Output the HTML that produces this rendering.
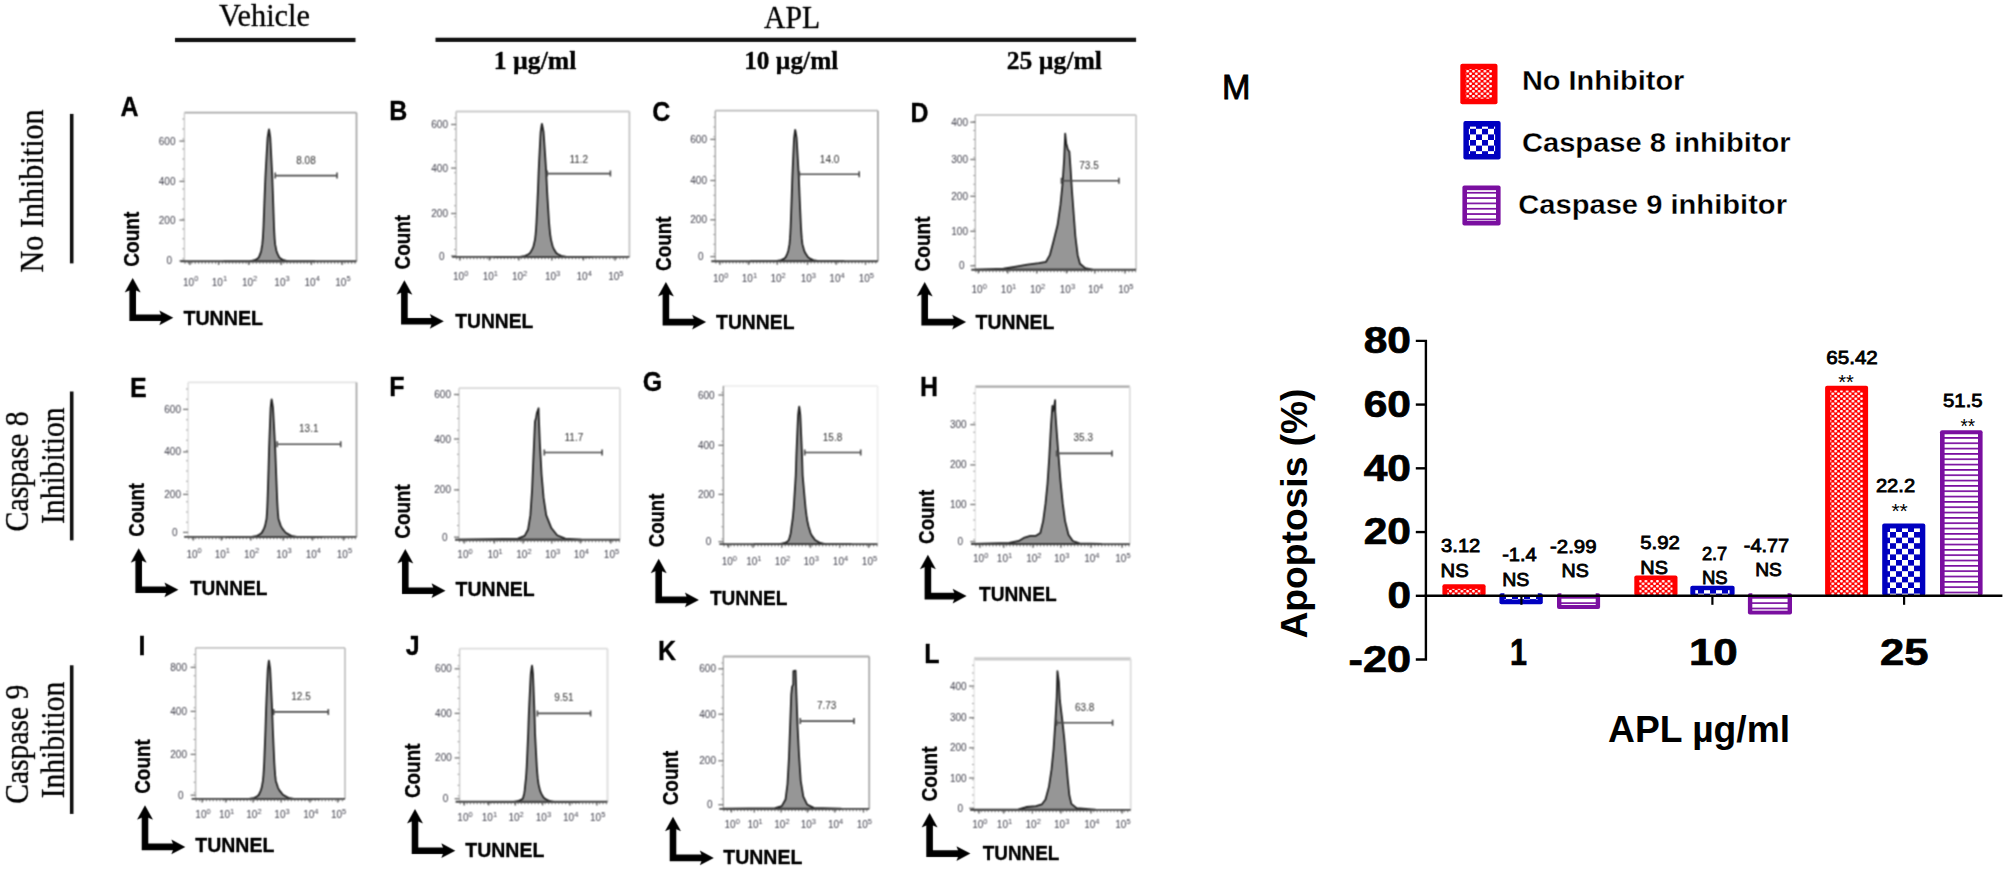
<!DOCTYPE html>
<html lang="en"><head><meta charset="utf-8"><title>Figure</title>
<style>html,body{margin:0;padding:0;background:#fff;}body{width:2007px;height:870px;overflow:hidden;}svg{display:block;}.s{font-family:"Liberation Sans", Arial, Helvetica, sans-serif;}.r{font-family:"Liberation Serif", "Times New Roman", Times, serif;stroke:#000;stroke-width:.3px;}.lt{font-family:"Liberation Sans", Arial, Helvetica, sans-serif;font-weight:700;font-size:27.8px;fill:#000;stroke:#000;stroke-width:.3px;}.ct{font-family:"Liberation Sans", Arial, Helvetica, sans-serif;font-weight:700;font-size:21.5px;fill:#000;stroke:#000;stroke-width:.3px;}.tn{font-family:"Liberation Sans", Arial, Helvetica, sans-serif;font-weight:700;font-size:20.2px;fill:#000;stroke:#000;stroke-width:.3px;}.tk{font-family:"Liberation Sans", Arial, Helvetica, sans-serif;font-size:10px;fill:#3e3e4a;}.gl{font-family:"Liberation Sans", Arial, Helvetica, sans-serif;font-size:10px;fill:#2e2e2e;}.vl{font-family:"Liberation Sans", Arial, Helvetica, sans-serif;font-weight:400;font-size:19px;fill:#000;stroke:#000;stroke-width:.85px;}</style></head><body>
<svg width="2007" height="870" viewBox="0 0 2007 870">
<defs>
<filter id="b1" x="-5%" y="-5%" width="110%" height="110%" color-interpolation-filters="sRGB"><feConvolveMatrix order="3" kernelMatrix="0 1 0 1 4 1 0 1 0" divisor="8" edgeMode="duplicate" preserveAlpha="false"/></filter>
<filter id="b2" x="-5%" y="-5%" width="110%" height="110%" color-interpolation-filters="sRGB"><feConvolveMatrix order="3" kernelMatrix="1 2 1 2 4 2 1 2 1" divisor="16" edgeMode="duplicate" preserveAlpha="false"/></filter>
<pattern id="pr" width="5.75" height="5" patternUnits="userSpaceOnUse"><rect width="5.75" height="5" fill="#f00"/><rect x="0.1" y="0.1" width="2.65" height="2.3" rx="0.8" fill="#fff"/><rect x="2.975" y="2.6" width="2.65" height="2.3" rx="0.8" fill="#fff"/></pattern>
<pattern id="pb" width="12" height="11.2" patternUnits="userSpaceOnUse"><rect width="12" height="11.2" fill="#fff"/><rect x="0" y="0" width="6" height="5.6" fill="#0000c0"/><rect x="6" y="5.6" width="6" height="5.6" fill="#0000c0"/></pattern>
<pattern id="pp" width="8" height="5.33" patternUnits="userSpaceOnUse"><rect width="8" height="5.33" fill="#fff"/><rect x="0" y="0" width="8" height="1.7" fill="#7a0fa0"/></pattern>
</defs>
<rect width="2007" height="870" fill="#fff"/>
<g filter="url(#b1)">
<text class="r" x="219" y="25.8" font-size="31" textLength="91" lengthAdjust="spacingAndGlyphs">Vehicle</text>
<rect x="175" y="37.9" width="180.5" height="4.2" fill="#111"/>
<text class="r" x="764" y="27.8" font-size="31" textLength="56" lengthAdjust="spacingAndGlyphs">APL</text>
<rect x="435.5" y="37.7" width="700.6" height="4.2" fill="#111"/>
<text class="r" x="493.7" y="68.7" font-size="25.5" font-weight="700" textLength="82.7" lengthAdjust="spacingAndGlyphs">1 µg/ml</text>
<text class="r" x="744.2" y="68.7" font-size="25.5" font-weight="700" textLength="94.1" lengthAdjust="spacingAndGlyphs">10 µg/ml</text>
<text class="r" x="1006.8" y="68.7" font-size="25.5" font-weight="700" textLength="95.2" lengthAdjust="spacingAndGlyphs">25 µg/ml</text>
<text class="r" transform="translate(43.3,190.9) rotate(-90)" text-anchor="middle" font-size="33.3" textLength="163" lengthAdjust="spacingAndGlyphs">No Inhibition</text>
<rect x="69.9" y="113.9" width="3.6" height="149.5" fill="#111"/>
<text class="r" transform="translate(28.4,471.35) rotate(-90)" text-anchor="middle" font-size="33.3" textLength="120.1" lengthAdjust="spacingAndGlyphs">Caspase 8</text>
<text class="r" transform="translate(63.7,465.7) rotate(-90)" text-anchor="middle" font-size="33.3" textLength="116.6" lengthAdjust="spacingAndGlyphs">Inhibition</text>
<rect x="69.9" y="391.5" width="3.6" height="148.9" fill="#111"/>
<text class="r" transform="translate(28.4,744.2) rotate(-90)" text-anchor="middle" font-size="33.3" textLength="119" lengthAdjust="spacingAndGlyphs">Caspase 9</text>
<text class="r" transform="translate(63.7,740) rotate(-90)" text-anchor="middle" font-size="33.3" textLength="116.6" lengthAdjust="spacingAndGlyphs">Inhibition</text>
<rect x="69.9" y="665.3" width="3.6" height="148.6" fill="#111"/>
</g>
<g filter="url(#b2)">
<line x1="184.4" y1="112.6" x2="356.5" y2="112.6" stroke="#aaa" stroke-width="1.8"/>
<line x1="356.5" y1="112.6" x2="356.5" y2="261.3" stroke="#aaa" stroke-width="1.8"/>
<line x1="184.4" y1="112.6" x2="184.4" y2="261.3" stroke="#ccc" stroke-width="1.4"/>
<line x1="183.2" y1="118.6" x2="183.2" y2="261.3" stroke="#999" stroke-width="1.6" stroke-dasharray="1 8.98"/>
<line x1="179.4" y1="141.1" x2="184.4" y2="141.1" stroke="#777" stroke-width="1.3"/>
<text class="tk" x="175.5" y="144.6" text-anchor="end">600</text>
<line x1="179.4" y1="181.4" x2="184.4" y2="181.4" stroke="#777" stroke-width="1.3"/>
<text class="tk" x="175.5" y="184.9" text-anchor="end">400</text>
<line x1="179.4" y1="220.1" x2="184.4" y2="220.1" stroke="#777" stroke-width="1.3"/>
<text class="tk" x="175.5" y="223.6" text-anchor="end">200</text>
<line x1="179.4" y1="260.9" x2="184.4" y2="260.9" stroke="#777" stroke-width="1.3"/>
<text class="tk" x="172" y="264.4" text-anchor="end">0</text>
<path d="M223.96 261.3 L248.96 261.3 L251.66 260.77 L254.36 260.25 L255.98 259.45 L257.6 258.66 L258.8 257.35 L259.62 255.37 L260.43 253.39 L261.2 250.76 L261.64 248.12 L262.3 244.17 L262.79 238.89 L263.12 233.62 L263.47 227.03 L263.77 219.12 L264.07 211.22 L264.36 203.31 L264.65 195.4 L265.02 186.17 L265.4 176.95 L265.88 167.72 L266.4 158.5 L266.92 149.27 L267.29 142.68 L267.63 137.41 L268.27 133.45 L268.59 131.48 L269 129.5 L269.37 131.48 L269.66 133.45 L270.24 137.41 L270.55 142.68 L270.89 149.27 L271.36 158.5 L271.83 167.72 L272.27 176.95 L272.61 186.17 L272.95 195.4 L273.21 203.31 L273.48 211.22 L273.75 219.12 L274.03 227.03 L274.35 233.62 L274.66 238.89 L275.1 244.17 L275.89 248.12 L276.41 250.76 L277.32 253.39 L278.3 255.37 L279.28 257.35 L280.7 258.66 L282.32 259.45 L283.94 260.25 L286.64 260.77 L289.34 261.3 L314.34 261.3 Z" fill="#969696" stroke="#222" stroke-width="1.8" stroke-linejoin="round"/>
<line x1="180.4" y1="261.3" x2="356.5" y2="261.3" stroke="#444" stroke-width="1.9"/>
<line x1="189.9" y1="261.3" x2="189.9" y2="264.9" stroke="#555" stroke-width="1.3"/>
<text class="tk" x="190.7" y="285.5" text-anchor="middle">10<tspan font-size="7.5" dy="-4.2">0</tspan></text>
<line x1="218.6" y1="261.3" x2="218.6" y2="264.9" stroke="#555" stroke-width="1.3"/>
<text class="tk" x="219.4" y="285.5" text-anchor="middle">10<tspan font-size="7.5" dy="-4.2">1</tspan></text>
<line x1="248.8" y1="261.3" x2="248.8" y2="264.9" stroke="#555" stroke-width="1.3"/>
<text class="tk" x="249.6" y="285.5" text-anchor="middle">10<tspan font-size="7.5" dy="-4.2">2</tspan></text>
<line x1="281.2" y1="261.3" x2="281.2" y2="264.9" stroke="#555" stroke-width="1.3"/>
<text class="tk" x="282" y="285.5" text-anchor="middle">10<tspan font-size="7.5" dy="-4.2">3</tspan></text>
<line x1="311.4" y1="261.3" x2="311.4" y2="264.9" stroke="#555" stroke-width="1.3"/>
<text class="tk" x="312.2" y="285.5" text-anchor="middle">10<tspan font-size="7.5" dy="-4.2">4</tspan></text>
<line x1="342.1" y1="261.3" x2="342.1" y2="264.9" stroke="#555" stroke-width="1.3"/>
<text class="tk" x="342.9" y="285.5" text-anchor="middle">10<tspan font-size="7.5" dy="-4.2">5</tspan></text>
<line x1="184.4" y1="262.9" x2="356.5" y2="262.9" stroke="#777" stroke-width="1.6" stroke-dasharray="1.2 2.2"/>
<path d="M275.2 175.6 H337 M275.2 172.6 V178.6 M337 172.6 V178.6" stroke="#4c4c4c" stroke-width="1.6" fill="none"/>
<text class="gl" x="306" y="164" text-anchor="middle">8.08</text>
</g>
<g filter="url(#b1)">
<text class="lt" transform="translate(120.5,116.3) scale(0.9,1)">A</text>
<text class="ct" transform="translate(138.6,239.2) rotate(-90)" text-anchor="middle" textLength="55.2" lengthAdjust="spacingAndGlyphs">Count</text>
<path d="M132.7 287.1 V317.8 H164.3" fill="none" stroke="#000" stroke-width="6.6" stroke-linejoin="miter"/><path d="M132.7 278.1 L140.7 292.6 L132.7 289.1 L124.7 292.6 Z" fill="#000"/><path d="M173.3 317.8 L159.3 310.4 L162.3 317.8 L159.3 325.2 Z" fill="#000"/>
<text class="tn" x="183.4" y="325.2" textLength="79.7" lengthAdjust="spacingAndGlyphs">TUNNEL</text>
</g>
<g filter="url(#b2)">
<line x1="456.1" y1="111.5" x2="629.4" y2="111.5" stroke="#ccc" stroke-width="1.8"/>
<line x1="629.4" y1="111.5" x2="629.4" y2="256.9" stroke="#c4c4c4" stroke-width="1.8"/>
<line x1="456.1" y1="111.5" x2="456.1" y2="256.9" stroke="#bbb" stroke-width="1.4"/>
<line x1="454.9" y1="117.5" x2="454.9" y2="256.9" stroke="#999" stroke-width="1.6" stroke-dasharray="1 9.96"/>
<line x1="451.1" y1="124.5" x2="456.1" y2="124.5" stroke="#777" stroke-width="1.3"/>
<text class="tk" x="448" y="128" text-anchor="end">600</text>
<line x1="451.1" y1="168.1" x2="456.1" y2="168.1" stroke="#777" stroke-width="1.3"/>
<text class="tk" x="448" y="171.6" text-anchor="end">400</text>
<line x1="451.1" y1="213.5" x2="456.1" y2="213.5" stroke="#777" stroke-width="1.3"/>
<text class="tk" x="448" y="217" text-anchor="end">200</text>
<line x1="451.1" y1="256" x2="456.1" y2="256" stroke="#777" stroke-width="1.3"/>
<text class="tk" x="444.5" y="259.5" text-anchor="end">0</text>
<path d="M494.86 256.9 L519.86 256.9 L522.56 256.37 L525.26 255.84 L526.88 255.04 L528.5 254.24 L530.15 252.91 L531.29 250.91 L532.42 248.91 L533.48 246.25 L534.09 243.59 L535 239.6 L535.61 234.27 L536.03 228.95 L536.47 222.29 L536.85 214.31 L537.23 206.32 L537.59 198.34 L537.95 190.35 L538.29 181.03 L538.63 171.72 L539.07 162.4 L539.54 153.08 L540.01 143.77 L540.35 137.11 L540.66 131.79 L541.24 127.79 L541.53 125.8 L541.9 123.8 L542.38 125.8 L542.76 127.79 L543.52 131.79 L543.92 137.11 L544.36 143.77 L544.98 153.08 L545.59 162.4 L546.17 171.72 L546.61 181.03 L547.05 190.35 L547.53 198.34 L548.02 206.32 L548.52 214.31 L549.03 222.29 L549.62 228.95 L550.18 234.27 L551 239.6 L551.98 243.59 L552.64 246.25 L553.78 248.91 L555 250.91 L556.22 252.91 L558 254.24 L559.62 255.04 L561.24 255.84 L563.94 256.37 L566.64 256.9 L591.64 256.9 Z" fill="#969696" stroke="#222" stroke-width="1.8" stroke-linejoin="round"/>
<line x1="452.1" y1="256.9" x2="629.4" y2="256.9" stroke="#444" stroke-width="1.9"/>
<line x1="459.9" y1="256.9" x2="459.9" y2="260.5" stroke="#555" stroke-width="1.3"/>
<text class="tk" x="460.7" y="280.3" text-anchor="middle">10<tspan font-size="7.5" dy="-4.2">0</tspan></text>
<line x1="489.5" y1="256.9" x2="489.5" y2="260.5" stroke="#555" stroke-width="1.3"/>
<text class="tk" x="490.3" y="280.3" text-anchor="middle">10<tspan font-size="7.5" dy="-4.2">1</tspan></text>
<line x1="518.8" y1="256.9" x2="518.8" y2="260.5" stroke="#555" stroke-width="1.3"/>
<text class="tk" x="519.6" y="280.3" text-anchor="middle">10<tspan font-size="7.5" dy="-4.2">2</tspan></text>
<line x1="551.8" y1="256.9" x2="551.8" y2="260.5" stroke="#555" stroke-width="1.3"/>
<text class="tk" x="552.6" y="280.3" text-anchor="middle">10<tspan font-size="7.5" dy="-4.2">3</tspan></text>
<line x1="583.4" y1="256.9" x2="583.4" y2="260.5" stroke="#555" stroke-width="1.3"/>
<text class="tk" x="584.2" y="280.3" text-anchor="middle">10<tspan font-size="7.5" dy="-4.2">4</tspan></text>
<line x1="615" y1="256.9" x2="615" y2="260.5" stroke="#555" stroke-width="1.3"/>
<text class="tk" x="615.8" y="280.3" text-anchor="middle">10<tspan font-size="7.5" dy="-4.2">5</tspan></text>
<line x1="456.1" y1="258.5" x2="629.4" y2="258.5" stroke="#777" stroke-width="1.6" stroke-dasharray="1.2 2.2"/>
<path d="M547.2 173.6 H610.4 M547.2 170.6 V176.6 M610.4 170.6 V176.6" stroke="#4c4c4c" stroke-width="1.6" fill="none"/>
<text class="gl" x="578.8" y="162.5" text-anchor="middle">11.2</text>
</g>
<g filter="url(#b1)">
<text class="lt" transform="translate(389.3,119.9) scale(0.9,1)">B</text>
<text class="ct" transform="translate(409.6,242.25) rotate(-90)" text-anchor="middle" textLength="54.5" lengthAdjust="spacingAndGlyphs">Count</text>
<path d="M404.4 289.2 V321.3 H434.8" fill="none" stroke="#000" stroke-width="6.6" stroke-linejoin="miter"/><path d="M404.4 280.2 L412.4 294.7 L404.4 291.2 L396.4 294.7 Z" fill="#000"/><path d="M443.8 321.3 L429.8 313.9 L432.8 321.3 L429.8 328.7 Z" fill="#000"/>
<text class="tn" x="455.3" y="327.9" textLength="78" lengthAdjust="spacingAndGlyphs">TUNNEL</text>
</g>
<g filter="url(#b2)">
<line x1="715.3" y1="110.7" x2="877.9" y2="110.7" stroke="#bbb" stroke-width="1.8"/>
<line x1="877.9" y1="110.7" x2="877.9" y2="261.2" stroke="#aaa" stroke-width="1.8"/>
<line x1="715.3" y1="110.7" x2="715.3" y2="261.2" stroke="#aaa" stroke-width="1.4"/>
<line x1="714.1" y1="116.7" x2="714.1" y2="261.2" stroke="#999" stroke-width="1.6" stroke-dasharray="1 8.77"/>
<line x1="710.3" y1="139.4" x2="715.3" y2="139.4" stroke="#777" stroke-width="1.3"/>
<text class="tk" x="707" y="142.9" text-anchor="end">600</text>
<line x1="710.3" y1="180.5" x2="715.3" y2="180.5" stroke="#777" stroke-width="1.3"/>
<text class="tk" x="707" y="184" text-anchor="end">400</text>
<line x1="710.3" y1="219.8" x2="715.3" y2="219.8" stroke="#777" stroke-width="1.3"/>
<text class="tk" x="707" y="223.3" text-anchor="end">200</text>
<line x1="710.3" y1="256.6" x2="715.3" y2="256.6" stroke="#777" stroke-width="1.3"/>
<text class="tk" x="703.5" y="260.1" text-anchor="end">0</text>
<path d="M750.66 261.2 L775.66 261.2 L778.36 260.67 L781.06 260.15 L782.68 259.36 L784.3 258.57 L785.62 257.26 L786.53 255.29 L787.44 253.32 L788.28 250.7 L788.77 248.07 L789.5 244.13 L789.96 238.88 L790.29 233.63 L790.62 227.06 L790.91 219.18 L791.2 211.31 L791.47 203.43 L791.75 195.55 L792.05 186.36 L792.34 177.17 L792.73 167.98 L793.14 158.79 L793.55 149.6 L793.85 143.03 L794.12 137.78 L794.62 133.84 L794.88 131.87 L795.2 129.9 L795.61 131.87 L795.93 133.84 L796.57 137.78 L796.91 143.03 L797.28 149.6 L797.8 158.79 L798.32 167.98 L798.8 177.17 L799.18 186.36 L799.55 195.55 L799.9 203.43 L800.25 211.31 L800.61 219.18 L800.98 227.06 L801.4 233.63 L801.81 238.88 L802.4 244.13 L803.47 248.07 L804.18 250.7 L805.42 253.32 L806.74 255.29 L808.07 257.26 L810 258.57 L811.62 259.36 L813.24 260.15 L815.94 260.67 L818.64 261.2 L843.64 261.2 Z" fill="#969696" stroke="#222" stroke-width="1.8" stroke-linejoin="round"/>
<line x1="711.3" y1="261.2" x2="877.9" y2="261.2" stroke="#444" stroke-width="1.9"/>
<line x1="719.9" y1="261.2" x2="719.9" y2="264.8" stroke="#555" stroke-width="1.3"/>
<text class="tk" x="720.7" y="281.8" text-anchor="middle">10<tspan font-size="7.5" dy="-4.2">0</tspan></text>
<line x1="748.6" y1="261.2" x2="748.6" y2="264.8" stroke="#555" stroke-width="1.3"/>
<text class="tk" x="749.4" y="281.8" text-anchor="middle">10<tspan font-size="7.5" dy="-4.2">1</tspan></text>
<line x1="777.3" y1="261.2" x2="777.3" y2="264.8" stroke="#555" stroke-width="1.3"/>
<text class="tk" x="778.1" y="281.8" text-anchor="middle">10<tspan font-size="7.5" dy="-4.2">2</tspan></text>
<line x1="807.5" y1="261.2" x2="807.5" y2="264.8" stroke="#555" stroke-width="1.3"/>
<text class="tk" x="808.3" y="281.8" text-anchor="middle">10<tspan font-size="7.5" dy="-4.2">3</tspan></text>
<line x1="836.2" y1="261.2" x2="836.2" y2="264.8" stroke="#555" stroke-width="1.3"/>
<text class="tk" x="837" y="281.8" text-anchor="middle">10<tspan font-size="7.5" dy="-4.2">4</tspan></text>
<line x1="865.5" y1="261.2" x2="865.5" y2="264.8" stroke="#555" stroke-width="1.3"/>
<text class="tk" x="866.3" y="281.8" text-anchor="middle">10<tspan font-size="7.5" dy="-4.2">5</tspan></text>
<line x1="715.3" y1="262.8" x2="877.9" y2="262.8" stroke="#777" stroke-width="1.6" stroke-dasharray="1.2 2.2"/>
<path d="M799.4 174.2 H859.2 M799.4 171.2 V177.2 M859.2 171.2 V177.2" stroke="#4c4c4c" stroke-width="1.6" fill="none"/>
<text class="gl" x="829.6" y="162.5" text-anchor="middle">14.0</text>
</g>
<g filter="url(#b1)">
<text class="lt" transform="translate(652.2,120.8) scale(0.9,1)">C</text>
<text class="ct" transform="translate(670.6,243.7) rotate(-90)" text-anchor="middle" textLength="54.6" lengthAdjust="spacingAndGlyphs">Count</text>
<path d="M665.9 290.9 V322.1 H697.1" fill="none" stroke="#000" stroke-width="6.6" stroke-linejoin="miter"/><path d="M665.9 281.9 L673.9 296.4 L665.9 292.9 L657.9 296.4 Z" fill="#000"/><path d="M706.1 322.1 L692.1 314.7 L695.1 322.1 L692.1 329.5 Z" fill="#000"/>
<text class="tn" x="716.1" y="329" textLength="78.4" lengthAdjust="spacingAndGlyphs">TUNNEL</text>
</g>
<g filter="url(#b2)">
<line x1="975.3" y1="115" x2="1136.1" y2="115" stroke="#ccc" stroke-width="1.8"/>
<line x1="1136.1" y1="115" x2="1136.1" y2="269.8" stroke="#ccc" stroke-width="1.8"/>
<line x1="975.3" y1="115" x2="975.3" y2="269.8" stroke="#bbb" stroke-width="1.4"/>
<line x1="974.1" y1="121" x2="974.1" y2="269.8" stroke="#999" stroke-width="1.6" stroke-dasharray="1 7.98"/>
<line x1="970.3" y1="122.2" x2="975.3" y2="122.2" stroke="#777" stroke-width="1.3"/>
<text class="tk" x="968" y="125.7" text-anchor="end">400</text>
<line x1="970.3" y1="159.5" x2="975.3" y2="159.5" stroke="#777" stroke-width="1.3"/>
<text class="tk" x="968" y="163" text-anchor="end">300</text>
<line x1="970.3" y1="196.3" x2="975.3" y2="196.3" stroke="#777" stroke-width="1.3"/>
<text class="tk" x="968" y="199.8" text-anchor="end">200</text>
<line x1="970.3" y1="231.3" x2="975.3" y2="231.3" stroke="#777" stroke-width="1.3"/>
<text class="tk" x="968" y="234.8" text-anchor="end">100</text>
<line x1="970.3" y1="265.8" x2="975.3" y2="265.8" stroke="#777" stroke-width="1.3"/>
<text class="tk" x="964.5" y="269.3" text-anchor="end">0</text>
<path d="M975.27 269.55 L1003.42 268.68 L1015.91 266.67 L1027.4 264.66 L1038.89 263.23 L1046.07 261.79 L1049.81 255.18 L1053.26 242.26 L1057.56 225.02 L1060.44 204.91 L1062.45 184.8 L1064.17 158.95 L1065.18 133.67 L1066.19 143.15 L1067.92 149.75 L1069.35 151.48 L1070.5 167.56 L1071.94 190.55 L1073.66 213.53 L1075.39 236.51 L1077.68 255.18 L1079.98 263.8 L1085.29 268.11 L1092.47 269.55 Z" fill="#969696" stroke="#222" stroke-width="1.8" stroke-linejoin="round"/>
<line x1="971.3" y1="269.8" x2="1136.1" y2="269.8" stroke="#444" stroke-width="1.9"/>
<line x1="978.4" y1="269.8" x2="978.4" y2="273.4" stroke="#555" stroke-width="1.3"/>
<text class="tk" x="979.2" y="292.7" text-anchor="middle">10<tspan font-size="7.5" dy="-4.2">0</tspan></text>
<line x1="1007.7" y1="269.8" x2="1007.7" y2="273.4" stroke="#555" stroke-width="1.3"/>
<text class="tk" x="1008.5" y="292.7" text-anchor="middle">10<tspan font-size="7.5" dy="-4.2">1</tspan></text>
<line x1="1036.8" y1="269.8" x2="1036.8" y2="273.4" stroke="#555" stroke-width="1.3"/>
<text class="tk" x="1037.6" y="292.7" text-anchor="middle">10<tspan font-size="7.5" dy="-4.2">2</tspan></text>
<line x1="1066.6" y1="269.8" x2="1066.6" y2="273.4" stroke="#555" stroke-width="1.3"/>
<text class="tk" x="1067.4" y="292.7" text-anchor="middle">10<tspan font-size="7.5" dy="-4.2">3</tspan></text>
<line x1="1094.8" y1="269.8" x2="1094.8" y2="273.4" stroke="#555" stroke-width="1.3"/>
<text class="tk" x="1095.6" y="292.7" text-anchor="middle">10<tspan font-size="7.5" dy="-4.2">4</tspan></text>
<line x1="1125" y1="269.8" x2="1125" y2="273.4" stroke="#555" stroke-width="1.3"/>
<text class="tk" x="1125.8" y="292.7" text-anchor="middle">10<tspan font-size="7.5" dy="-4.2">5</tspan></text>
<line x1="975.3" y1="271.4" x2="1136.1" y2="271.4" stroke="#777" stroke-width="1.6" stroke-dasharray="1.2 2.2"/>
<path d="M1061.4 180.8 H1118.9 M1061.4 177.8 V183.8 M1118.9 177.8 V183.8" stroke="#4c4c4c" stroke-width="1.6" fill="none"/>
<text class="gl" x="1089" y="168.8" text-anchor="middle">73.5</text>
</g>
<g filter="url(#b1)">
<text class="lt" transform="translate(910.4,122.2) scale(0.9,1)">D</text>
<text class="ct" transform="translate(930,244) rotate(-90)" text-anchor="middle" textLength="55.2" lengthAdjust="spacingAndGlyphs">Count</text>
<path d="M924.7 290.9 V322.1 H957.1" fill="none" stroke="#000" stroke-width="6.6" stroke-linejoin="miter"/><path d="M924.7 281.9 L932.7 296.4 L924.7 292.9 L916.7 296.4 Z" fill="#000"/><path d="M966.1 322.1 L952.1 314.7 L955.1 322.1 L952.1 329.5 Z" fill="#000"/>
<text class="tn" x="975.6" y="329" textLength="78.7" lengthAdjust="spacingAndGlyphs">TUNNEL</text>
</g>
<g filter="url(#b2)">
<line x1="188.1" y1="382.4" x2="356.5" y2="382.4" stroke="#e4e4e4" stroke-width="1.8"/>
<line x1="356.5" y1="382.4" x2="356.5" y2="536.9" stroke="#aaa" stroke-width="1.8"/>
<line x1="188.1" y1="382.4" x2="188.1" y2="536.9" stroke="#ddd" stroke-width="1.4"/>
<line x1="186.9" y1="388.4" x2="186.9" y2="536.9" stroke="#999" stroke-width="1.6" stroke-dasharray="1 9.25"/>
<line x1="183.1" y1="409.4" x2="188.1" y2="409.4" stroke="#777" stroke-width="1.3"/>
<text class="tk" x="181" y="412.9" text-anchor="end">600</text>
<line x1="183.1" y1="451.9" x2="188.1" y2="451.9" stroke="#777" stroke-width="1.3"/>
<text class="tk" x="181" y="455.4" text-anchor="end">400</text>
<line x1="183.1" y1="494.4" x2="188.1" y2="494.4" stroke="#777" stroke-width="1.3"/>
<text class="tk" x="181" y="497.9" text-anchor="end">200</text>
<line x1="183.1" y1="532.4" x2="188.1" y2="532.4" stroke="#777" stroke-width="1.3"/>
<text class="tk" x="177.5" y="535.9" text-anchor="end">0</text>
<path d="M226.56 536.9 L251.56 536.9 L254.26 536.35 L256.96 535.8 L258.58 534.97 L260.2 534.15 L261.8 532.77 L262.9 530.71 L264 528.64 L265.03 525.89 L265.62 523.14 L266.5 519.01 L266.92 513.51 L267.22 508 L267.52 501.12 L267.79 492.87 L268.05 484.61 L268.3 476.36 L268.55 468.1 L268.81 458.47 L269.07 448.84 L269.41 439.2 L269.78 429.57 L270.14 419.94 L270.4 413.06 L270.64 407.56 L271.09 403.43 L271.31 401.36 L271.6 399.3 L272.01 401.36 L272.33 403.43 L272.97 407.56 L273.31 413.06 L273.68 419.94 L274.2 429.57 L274.72 439.2 L275.2 448.84 L275.58 458.47 L275.95 468.1 L276.26 476.36 L276.58 484.61 L276.9 492.87 L277.23 501.12 L277.61 508 L277.97 513.51 L278.5 519.01 L279.86 523.14 L280.77 525.89 L282.35 528.64 L284.04 530.71 L285.73 532.77 L288.2 534.15 L289.82 534.97 L291.44 535.8 L294.14 536.35 L296.84 536.9 L321.84 536.9 Z" fill="#969696" stroke="#222" stroke-width="1.8" stroke-linejoin="round"/>
<line x1="184.1" y1="536.9" x2="356.5" y2="536.9" stroke="#444" stroke-width="1.9"/>
<line x1="193.3" y1="536.9" x2="193.3" y2="540.5" stroke="#555" stroke-width="1.3"/>
<text class="tk" x="194.1" y="557.5" text-anchor="middle">10<tspan font-size="7.5" dy="-4.2">0</tspan></text>
<line x1="221.5" y1="536.9" x2="221.5" y2="540.5" stroke="#555" stroke-width="1.3"/>
<text class="tk" x="222.3" y="557.5" text-anchor="middle">10<tspan font-size="7.5" dy="-4.2">1</tspan></text>
<line x1="250.8" y1="536.9" x2="250.8" y2="540.5" stroke="#555" stroke-width="1.3"/>
<text class="tk" x="251.6" y="557.5" text-anchor="middle">10<tspan font-size="7.5" dy="-4.2">2</tspan></text>
<line x1="283.2" y1="536.9" x2="283.2" y2="540.5" stroke="#555" stroke-width="1.3"/>
<text class="tk" x="284" y="557.5" text-anchor="middle">10<tspan font-size="7.5" dy="-4.2">3</tspan></text>
<line x1="312.5" y1="536.9" x2="312.5" y2="540.5" stroke="#555" stroke-width="1.3"/>
<text class="tk" x="313.3" y="557.5" text-anchor="middle">10<tspan font-size="7.5" dy="-4.2">4</tspan></text>
<line x1="343.6" y1="536.9" x2="343.6" y2="540.5" stroke="#555" stroke-width="1.3"/>
<text class="tk" x="344.4" y="557.5" text-anchor="middle">10<tspan font-size="7.5" dy="-4.2">5</tspan></text>
<line x1="188.1" y1="538.5" x2="356.5" y2="538.5" stroke="#777" stroke-width="1.6" stroke-dasharray="1.2 2.2"/>
<path d="M277.2 444.2 H340.7 M277.2 441.2 V447.2 M340.7 441.2 V447.2" stroke="#4c4c4c" stroke-width="1.6" fill="none"/>
<text class="gl" x="308.8" y="432.4" text-anchor="middle">13.1</text>
</g>
<g filter="url(#b1)">
<text class="lt" transform="translate(129.9,397.1) scale(0.9,1)">E</text>
<text class="ct" transform="translate(144.3,509.85) rotate(-90)" text-anchor="middle" textLength="53.7" lengthAdjust="spacingAndGlyphs">Count</text>
<path d="M138.7 557.2 V589.8 H169.4" fill="none" stroke="#000" stroke-width="6.6" stroke-linejoin="miter"/><path d="M138.7 548.2 L146.7 562.7 L138.7 559.2 L130.7 562.7 Z" fill="#000"/><path d="M178.4 589.8 L164.4 582.4 L167.4 589.8 L164.4 597.2 Z" fill="#000"/>
<text class="tn" x="189.9" y="595" textLength="77.5" lengthAdjust="spacingAndGlyphs">TUNNEL</text>
</g>
<g filter="url(#b2)">
<line x1="459" y1="388.2" x2="619.9" y2="388.2" stroke="#d8d8d8" stroke-width="1.8"/>
<line x1="619.9" y1="388.2" x2="619.9" y2="539.8" stroke="#ddd" stroke-width="1.8"/>
<line x1="459" y1="388.2" x2="459" y2="539.8" stroke="#ccc" stroke-width="1.4"/>
<line x1="457.8" y1="394.2" x2="457.8" y2="539.8" stroke="#999" stroke-width="1.6" stroke-dasharray="1 10.89"/>
<line x1="454" y1="394.5" x2="459" y2="394.5" stroke="#777" stroke-width="1.3"/>
<text class="tk" x="451" y="398" text-anchor="end">600</text>
<line x1="454" y1="439" x2="459" y2="439" stroke="#777" stroke-width="1.3"/>
<text class="tk" x="451" y="442.5" text-anchor="end">400</text>
<line x1="454" y1="489.9" x2="459" y2="489.9" stroke="#777" stroke-width="1.3"/>
<text class="tk" x="451" y="493.4" text-anchor="end">200</text>
<line x1="454" y1="537.2" x2="459" y2="537.2" stroke="#777" stroke-width="1.3"/>
<text class="tk" x="447.5" y="540.7" text-anchor="end">0</text>
<path d="M459 539.55 L517.89 538.68 L524.64 535.81 L528.08 529.49 L530.38 515.13 L532.11 489.27 L533.54 454.8 L534.98 421.76 L536.13 417.45 L536.85 413.15 L538.58 408.26 L538.72 414.58 L539.87 443.31 L541.6 474.91 L543.61 497.89 L546.19 515.13 L551.36 528.06 L557.11 535.24 L565.29 538.68 L581.09 539.55 Z" fill="#969696" stroke="#222" stroke-width="1.8" stroke-linejoin="round"/>
<line x1="455" y1="539.8" x2="619.9" y2="539.8" stroke="#444" stroke-width="1.9"/>
<line x1="464.2" y1="539.8" x2="464.2" y2="543.4" stroke="#555" stroke-width="1.3"/>
<text class="tk" x="465" y="558.1" text-anchor="middle">10<tspan font-size="7.5" dy="-4.2">0</tspan></text>
<line x1="494.3" y1="539.8" x2="494.3" y2="543.4" stroke="#555" stroke-width="1.3"/>
<text class="tk" x="495.1" y="558.1" text-anchor="middle">10<tspan font-size="7.5" dy="-4.2">1</tspan></text>
<line x1="523.1" y1="539.8" x2="523.1" y2="543.4" stroke="#555" stroke-width="1.3"/>
<text class="tk" x="523.9" y="558.1" text-anchor="middle">10<tspan font-size="7.5" dy="-4.2">2</tspan></text>
<line x1="551.8" y1="539.8" x2="551.8" y2="543.4" stroke="#555" stroke-width="1.3"/>
<text class="tk" x="552.6" y="558.1" text-anchor="middle">10<tspan font-size="7.5" dy="-4.2">3</tspan></text>
<line x1="580.5" y1="539.8" x2="580.5" y2="543.4" stroke="#555" stroke-width="1.3"/>
<text class="tk" x="581.3" y="558.1" text-anchor="middle">10<tspan font-size="7.5" dy="-4.2">4</tspan></text>
<line x1="610.7" y1="539.8" x2="610.7" y2="543.4" stroke="#555" stroke-width="1.3"/>
<text class="tk" x="611.5" y="558.1" text-anchor="middle">10<tspan font-size="7.5" dy="-4.2">5</tspan></text>
<line x1="459" y1="541.4" x2="619.9" y2="541.4" stroke="#777" stroke-width="1.6" stroke-dasharray="1.2 2.2"/>
<path d="M544.3 452.5 H602.1 M544.3 449.5 V455.5 M602.1 449.5 V455.5" stroke="#4c4c4c" stroke-width="1.6" fill="none"/>
<text class="gl" x="573.9" y="440.5" text-anchor="middle">11.7</text>
</g>
<g filter="url(#b1)">
<text class="lt" transform="translate(389.3,395.7) scale(0.9,1)">F</text>
<text class="ct" transform="translate(410,511.4) rotate(-90)" text-anchor="middle" textLength="54.6" lengthAdjust="spacingAndGlyphs">Count</text>
<path d="M405.3 558 V590.7 H436.5" fill="none" stroke="#000" stroke-width="6.6" stroke-linejoin="miter"/><path d="M405.3 549 L413.3 563.5 L405.3 560 L397.3 563.5 Z" fill="#000"/><path d="M445.5 590.7 L431.5 583.3 L434.5 590.7 L431.5 598.1 Z" fill="#000"/>
<text class="tn" x="455.6" y="596.1" textLength="79" lengthAdjust="spacingAndGlyphs">TUNNEL</text>
</g>
<g filter="url(#b2)">
<line x1="723.4" y1="385.9" x2="877.6" y2="385.9" stroke="#eee" stroke-width="1.8"/>
<line x1="877.6" y1="385.9" x2="877.6" y2="544.1" stroke="#eee" stroke-width="1.8"/>
<line x1="723.4" y1="385.9" x2="723.4" y2="544.1" stroke="#999" stroke-width="1.4"/>
<line x1="722.2" y1="391.9" x2="722.2" y2="544.1" stroke="#999" stroke-width="1.6" stroke-dasharray="1 11.22"/>
<line x1="718.4" y1="395" x2="723.4" y2="395" stroke="#777" stroke-width="1.3"/>
<text class="tk" x="714.7" y="398.5" text-anchor="end">600</text>
<line x1="718.4" y1="445.3" x2="723.4" y2="445.3" stroke="#777" stroke-width="1.3"/>
<text class="tk" x="714.7" y="448.8" text-anchor="end">400</text>
<line x1="718.4" y1="494.4" x2="723.4" y2="494.4" stroke="#777" stroke-width="1.3"/>
<text class="tk" x="714.7" y="497.9" text-anchor="end">200</text>
<line x1="718.4" y1="541.6" x2="723.4" y2="541.6" stroke="#777" stroke-width="1.3"/>
<text class="tk" x="711.2" y="545.1" text-anchor="end">0</text>
<path d="M754.16 544.1 L779.16 544.1 L781.86 543.55 L784.56 543 L786.18 542.18 L787.8 541.35 L788.77 539.98 L789.43 537.91 L790.09 535.85 L790.71 533.1 L791.07 530.35 L791.6 526.23 L792.46 520.73 L793.05 515.23 L793.67 508.35 L794.2 500.1 L794.73 491.85 L795.24 483.6 L795.75 475.35 L796.05 465.73 L796.34 456.1 L796.73 446.48 L797.14 436.85 L797.55 427.23 L797.85 420.35 L798.12 414.85 L798.62 410.73 L798.88 408.66 L799.2 406.6 L799.52 408.66 L799.78 410.73 L800.28 414.85 L800.55 420.35 L800.85 427.23 L801.26 436.85 L801.67 446.48 L802.06 456.1 L802.35 465.73 L802.65 475.35 L803.37 483.6 L804.09 491.85 L804.83 500.1 L805.59 508.35 L806.45 515.23 L807.29 520.73 L808.5 526.23 L809.74 530.35 L810.56 533.1 L811.99 535.85 L813.53 537.91 L815.06 539.98 L817.3 541.35 L818.92 542.18 L820.54 543 L823.24 543.55 L825.94 544.1 L850.94 544.1 Z" fill="#969696" stroke="#222" stroke-width="1.8" stroke-linejoin="round"/>
<line x1="719.4" y1="544.1" x2="877.6" y2="544.1" stroke="#444" stroke-width="1.9"/>
<line x1="728.5" y1="544.1" x2="728.5" y2="547.7" stroke="#555" stroke-width="1.3"/>
<text class="tk" x="729.3" y="564.7" text-anchor="middle">10<tspan font-size="7.5" dy="-4.2">0</tspan></text>
<line x1="753" y1="544.1" x2="753" y2="547.7" stroke="#555" stroke-width="1.3"/>
<text class="tk" x="753.8" y="564.7" text-anchor="middle">10<tspan font-size="7.5" dy="-4.2">1</tspan></text>
<line x1="781.7" y1="544.1" x2="781.7" y2="547.7" stroke="#555" stroke-width="1.3"/>
<text class="tk" x="782.5" y="564.7" text-anchor="middle">10<tspan font-size="7.5" dy="-4.2">2</tspan></text>
<line x1="810.4" y1="544.1" x2="810.4" y2="547.7" stroke="#555" stroke-width="1.3"/>
<text class="tk" x="811.2" y="564.7" text-anchor="middle">10<tspan font-size="7.5" dy="-4.2">3</tspan></text>
<line x1="839.7" y1="544.1" x2="839.7" y2="547.7" stroke="#555" stroke-width="1.3"/>
<text class="tk" x="840.5" y="564.7" text-anchor="middle">10<tspan font-size="7.5" dy="-4.2">4</tspan></text>
<line x1="868.7" y1="544.1" x2="868.7" y2="547.7" stroke="#555" stroke-width="1.3"/>
<text class="tk" x="869.5" y="564.7" text-anchor="middle">10<tspan font-size="7.5" dy="-4.2">5</tspan></text>
<line x1="723.4" y1="545.7" x2="877.6" y2="545.7" stroke="#777" stroke-width="1.6" stroke-dasharray="1.2 2.2"/>
<path d="M804.7 452.5 H860.7 M804.7 449.5 V455.5 M860.7 449.5 V455.5" stroke="#4c4c4c" stroke-width="1.6" fill="none"/>
<text class="gl" x="832.5" y="440.5" text-anchor="middle">15.8</text>
</g>
<g filter="url(#b1)">
<text class="lt" transform="translate(642.8,391.4) scale(0.9,1)">G</text>
<text class="ct" transform="translate(664.3,520.45) rotate(-90)" text-anchor="middle" textLength="53.7" lengthAdjust="spacingAndGlyphs">Count</text>
<path d="M658.7 567.8 V599.9 H689.9" fill="none" stroke="#000" stroke-width="6.6" stroke-linejoin="miter"/><path d="M658.7 558.8 L666.7 573.3 L658.7 569.8 L650.7 573.3 Z" fill="#000"/><path d="M698.9 599.9 L684.9 592.5 L687.9 599.9 L684.9 607.3 Z" fill="#000"/>
<text class="tn" x="709.9" y="605" textLength="77.5" lengthAdjust="spacingAndGlyphs">TUNNEL</text>
</g>
<g filter="url(#b2)">
<line x1="975.3" y1="386.7" x2="1129.8" y2="386.7" stroke="#aaa" stroke-width="2.2"/>
<line x1="1129.8" y1="386.7" x2="1129.8" y2="544.1" stroke="#ddd" stroke-width="1.8"/>
<line x1="975.3" y1="386.7" x2="975.3" y2="544.1" stroke="#e4e4e4" stroke-width="1.4"/>
<line x1="974.1" y1="392.7" x2="974.1" y2="544.1" stroke="#999" stroke-width="1.6" stroke-dasharray="1 8.75"/>
<line x1="970.3" y1="424.6" x2="975.3" y2="424.6" stroke="#777" stroke-width="1.3"/>
<text class="tk" x="966.6" y="428.1" text-anchor="end">300</text>
<line x1="970.3" y1="464.9" x2="975.3" y2="464.9" stroke="#777" stroke-width="1.3"/>
<text class="tk" x="966.6" y="468.4" text-anchor="end">200</text>
<line x1="970.3" y1="504.5" x2="975.3" y2="504.5" stroke="#777" stroke-width="1.3"/>
<text class="tk" x="966.6" y="508" text-anchor="end">100</text>
<line x1="970.3" y1="541.6" x2="975.3" y2="541.6" stroke="#777" stroke-width="1.3"/>
<text class="tk" x="963.1" y="545.1" text-anchor="end">0</text>
<path d="M971.82 543.86 L1009.16 542.99 L1018.78 540.98 L1024.53 537.54 L1030.27 535.81 L1036.02 535.81 L1040.33 532.94 L1043.2 520.87 L1045.5 503.64 L1047.51 483.53 L1049.23 457.67 L1050.96 426.07 L1052.39 405.96 L1052.83 411.13 L1053.98 407.4 L1055.13 400.22 L1055.28 411.71 L1056.71 431.82 L1058.44 454.8 L1060.45 480.65 L1062.75 503.64 L1065.04 520.87 L1068.49 534.66 L1072.8 540.98 L1079.55 543.28 L1101.09 543.86 Z" fill="#969696" stroke="#222" stroke-width="1.8" stroke-linejoin="round"/>
<line x1="971.3" y1="544.1" x2="1129.8" y2="544.1" stroke="#444" stroke-width="1.9"/>
<line x1="979.9" y1="544.1" x2="979.9" y2="547.7" stroke="#555" stroke-width="1.3"/>
<text class="tk" x="980.7" y="561.8" text-anchor="middle">10<tspan font-size="7.5" dy="-4.2">0</tspan></text>
<line x1="1003.7" y1="544.1" x2="1003.7" y2="547.7" stroke="#555" stroke-width="1.3"/>
<text class="tk" x="1004.5" y="561.8" text-anchor="middle">10<tspan font-size="7.5" dy="-4.2">1</tspan></text>
<line x1="1033" y1="544.1" x2="1033" y2="547.7" stroke="#555" stroke-width="1.3"/>
<text class="tk" x="1033.8" y="561.8" text-anchor="middle">10<tspan font-size="7.5" dy="-4.2">2</tspan></text>
<line x1="1060.9" y1="544.1" x2="1060.9" y2="547.7" stroke="#555" stroke-width="1.3"/>
<text class="tk" x="1061.7" y="561.8" text-anchor="middle">10<tspan font-size="7.5" dy="-4.2">3</tspan></text>
<line x1="1091" y1="544.1" x2="1091" y2="547.7" stroke="#555" stroke-width="1.3"/>
<text class="tk" x="1091.8" y="561.8" text-anchor="middle">10<tspan font-size="7.5" dy="-4.2">4</tspan></text>
<line x1="1122.1" y1="544.1" x2="1122.1" y2="547.7" stroke="#555" stroke-width="1.3"/>
<text class="tk" x="1122.9" y="561.8" text-anchor="middle">10<tspan font-size="7.5" dy="-4.2">5</tspan></text>
<line x1="975.3" y1="545.7" x2="1129.8" y2="545.7" stroke="#777" stroke-width="1.6" stroke-dasharray="1.2 2.2"/>
<path d="M1056.6 453.4 H1112 M1056.6 450.4 V456.4 M1112 450.4 V456.4" stroke="#4c4c4c" stroke-width="1.6" fill="none"/>
<text class="gl" x="1083.3" y="441.2" text-anchor="middle">35.3</text>
</g>
<g filter="url(#b1)">
<text class="lt" transform="translate(919.9,395.7) scale(0.9,1)">H</text>
<text class="ct" transform="translate(933.7,516.85) rotate(-90)" text-anchor="middle" textLength="54.1" lengthAdjust="spacingAndGlyphs">Count</text>
<path d="M927.9 563.8 V596.1 H957.6" fill="none" stroke="#000" stroke-width="6.6" stroke-linejoin="miter"/><path d="M927.9 554.8 L935.9 569.3 L927.9 565.8 L919.9 569.3 Z" fill="#000"/><path d="M966.6 596.1 L952.6 588.7 L955.6 596.1 L952.6 603.5 Z" fill="#000"/>
<text class="tn" x="979" y="600.7" textLength="77.6" lengthAdjust="spacingAndGlyphs">TUNNEL</text>
</g>
<g filter="url(#b2)">
<line x1="195.6" y1="647.9" x2="345" y2="647.9" stroke="#c4c4c4" stroke-width="1.8"/>
<line x1="345" y1="647.9" x2="345" y2="798.9" stroke="#c4c4c4" stroke-width="1.8"/>
<line x1="195.6" y1="647.9" x2="195.6" y2="798.9" stroke="#bbb" stroke-width="1.4"/>
<line x1="194.4" y1="653.9" x2="194.4" y2="798.9" stroke="#999" stroke-width="1.6" stroke-dasharray="1 9.65"/>
<line x1="190.6" y1="667.4" x2="195.6" y2="667.4" stroke="#777" stroke-width="1.3"/>
<text class="tk" x="187" y="670.9" text-anchor="end">800</text>
<line x1="190.6" y1="711.4" x2="195.6" y2="711.4" stroke="#777" stroke-width="1.3"/>
<text class="tk" x="187" y="714.9" text-anchor="end">400</text>
<line x1="190.6" y1="754.4" x2="195.6" y2="754.4" stroke="#777" stroke-width="1.3"/>
<text class="tk" x="187" y="757.9" text-anchor="end">200</text>
<line x1="190.6" y1="795.2" x2="195.6" y2="795.2" stroke="#777" stroke-width="1.3"/>
<text class="tk" x="183.5" y="798.7" text-anchor="end">0</text>
<path d="M223.86 798.9 L248.86 798.9 L251.56 798.35 L254.26 797.79 L255.88 796.96 L257.5 796.13 L258.87 794.75 L259.82 792.68 L260.76 790.6 L261.64 787.84 L262.14 785.07 L262.9 780.92 L263.43 775.39 L263.79 769.86 L264.17 762.94 L264.5 754.64 L264.82 746.35 L265.14 738.05 L265.45 729.75 L265.75 720.07 L266.04 710.39 L266.43 700.71 L266.84 691.03 L267.25 681.35 L267.55 674.43 L267.82 668.9 L268.32 664.75 L268.58 662.67 L268.9 660.6 L269.27 662.67 L269.56 664.75 L270.14 668.9 L270.45 674.43 L270.79 681.35 L271.26 691.03 L271.73 700.71 L272.17 710.39 L272.51 720.07 L272.85 729.75 L273.21 738.05 L273.57 746.35 L273.95 754.64 L274.33 762.94 L274.77 769.86 L275.19 775.39 L275.8 780.92 L277.13 785.07 L278.02 787.84 L279.57 790.6 L281.23 792.68 L282.88 794.75 L285.3 796.13 L286.92 796.96 L288.54 797.79 L291.24 798.35 L293.94 798.9 L318.94 798.9 Z" fill="#969696" stroke="#222" stroke-width="1.8" stroke-linejoin="round"/>
<line x1="191.6" y1="798.9" x2="345" y2="798.9" stroke="#444" stroke-width="1.9"/>
<line x1="202.2" y1="798.9" x2="202.2" y2="802.5" stroke="#555" stroke-width="1.3"/>
<text class="tk" x="203" y="818.4" text-anchor="middle">10<tspan font-size="7.5" dy="-4.2">0</tspan></text>
<line x1="225.8" y1="798.9" x2="225.8" y2="802.5" stroke="#555" stroke-width="1.3"/>
<text class="tk" x="226.6" y="818.4" text-anchor="middle">10<tspan font-size="7.5" dy="-4.2">1</tspan></text>
<line x1="253.1" y1="798.9" x2="253.1" y2="802.5" stroke="#555" stroke-width="1.3"/>
<text class="tk" x="253.9" y="818.4" text-anchor="middle">10<tspan font-size="7.5" dy="-4.2">2</tspan></text>
<line x1="281.2" y1="798.9" x2="281.2" y2="802.5" stroke="#555" stroke-width="1.3"/>
<text class="tk" x="282" y="818.4" text-anchor="middle">10<tspan font-size="7.5" dy="-4.2">3</tspan></text>
<line x1="310" y1="798.9" x2="310" y2="802.5" stroke="#555" stroke-width="1.3"/>
<text class="tk" x="310.8" y="818.4" text-anchor="middle">10<tspan font-size="7.5" dy="-4.2">4</tspan></text>
<line x1="337.8" y1="798.9" x2="337.8" y2="802.5" stroke="#555" stroke-width="1.3"/>
<text class="tk" x="338.6" y="818.4" text-anchor="middle">10<tspan font-size="7.5" dy="-4.2">5</tspan></text>
<line x1="195.6" y1="800.5" x2="345" y2="800.5" stroke="#777" stroke-width="1.6" stroke-dasharray="1.2 2.2"/>
<path d="M273.7 711.9 H328.3 M273.7 708.9 V714.9 M328.3 708.9 V714.9" stroke="#4c4c4c" stroke-width="1.6" fill="none"/>
<text class="gl" x="301" y="699.6" text-anchor="middle">12.5</text>
</g>
<g filter="url(#b1)">
<text class="lt" transform="translate(138.6,655.1) scale(0.9,1)">I</text>
<text class="ct" transform="translate(149.5,766.5) rotate(-90)" text-anchor="middle" textLength="54.6" lengthAdjust="spacingAndGlyphs">Count</text>
<path d="M145 814.3 V846.9 H176.3" fill="none" stroke="#000" stroke-width="6.6" stroke-linejoin="miter"/><path d="M145 805.3 L153 819.8 L145 816.3 L137 819.8 Z" fill="#000"/><path d="M185.3 846.9 L171.3 839.5 L174.3 846.9 L171.3 854.3 Z" fill="#000"/>
<text class="tn" x="195.3" y="852.1" textLength="79" lengthAdjust="spacingAndGlyphs">TUNNEL</text>
</g>
<g filter="url(#b2)">
<line x1="459.6" y1="648.7" x2="607.5" y2="648.7" stroke="#ddd" stroke-width="1.8"/>
<line x1="607.5" y1="648.7" x2="607.5" y2="801.8" stroke="#ddd" stroke-width="1.8"/>
<line x1="459.6" y1="648.7" x2="459.6" y2="801.8" stroke="#ccc" stroke-width="1.4"/>
<line x1="458.4" y1="654.7" x2="458.4" y2="801.8" stroke="#999" stroke-width="1.6" stroke-dasharray="1 9.83"/>
<line x1="454.6" y1="668.8" x2="459.6" y2="668.8" stroke="#777" stroke-width="1.3"/>
<text class="tk" x="451.8" y="672.3" text-anchor="end">600</text>
<line x1="454.6" y1="713.4" x2="459.6" y2="713.4" stroke="#777" stroke-width="1.3"/>
<text class="tk" x="451.8" y="716.9" text-anchor="end">400</text>
<line x1="454.6" y1="757.9" x2="459.6" y2="757.9" stroke="#777" stroke-width="1.3"/>
<text class="tk" x="451.8" y="761.4" text-anchor="end">200</text>
<line x1="454.6" y1="798.7" x2="459.6" y2="798.7" stroke="#777" stroke-width="1.3"/>
<text class="tk" x="448.3" y="802.2" text-anchor="end">0</text>
<path d="M488.76 801.8 L513.76 801.8 L516.46 801.26 L519.16 800.71 L520.78 799.89 L522.4 799.08 L523.14 797.71 L523.64 795.67 L524.15 793.63 L524.62 790.9 L524.89 788.18 L525.3 784.09 L525.89 778.65 L526.3 773.2 L526.72 766.39 L527.09 758.22 L527.45 750.04 L527.8 741.87 L528.15 733.7 L528.48 724.17 L528.81 714.63 L529.24 705.1 L529.7 695.56 L530.16 686.03 L530.49 679.22 L530.79 673.77 L531.36 669.69 L531.64 667.64 L532 665.6 L532.29 667.64 L532.51 669.69 L532.96 673.77 L533.2 679.22 L533.46 686.03 L533.82 695.56 L534.19 705.1 L534.53 714.63 L534.79 724.17 L535.05 733.7 L535.47 741.87 L535.9 750.04 L536.34 758.22 L536.78 766.39 L537.29 773.2 L537.79 778.65 L538.5 784.09 L539.48 788.18 L540.14 790.9 L541.28 793.63 L542.5 795.67 L543.72 797.71 L545.5 799.08 L547.12 799.89 L548.74 800.71 L551.44 801.26 L554.14 801.8 L579.14 801.8 Z" fill="#969696" stroke="#222" stroke-width="1.8" stroke-linejoin="round"/>
<line x1="455.6" y1="801.8" x2="607.5" y2="801.8" stroke="#444" stroke-width="1.9"/>
<line x1="464.2" y1="801.8" x2="464.2" y2="805.4" stroke="#555" stroke-width="1.3"/>
<text class="tk" x="465" y="821.2" text-anchor="middle">10<tspan font-size="7.5" dy="-4.2">0</tspan></text>
<line x1="488.6" y1="801.8" x2="488.6" y2="805.4" stroke="#555" stroke-width="1.3"/>
<text class="tk" x="489.4" y="821.2" text-anchor="middle">10<tspan font-size="7.5" dy="-4.2">1</tspan></text>
<line x1="515.3" y1="801.8" x2="515.3" y2="805.4" stroke="#555" stroke-width="1.3"/>
<text class="tk" x="516.1" y="821.2" text-anchor="middle">10<tspan font-size="7.5" dy="-4.2">2</tspan></text>
<line x1="542.6" y1="801.8" x2="542.6" y2="805.4" stroke="#555" stroke-width="1.3"/>
<text class="tk" x="543.4" y="821.2" text-anchor="middle">10<tspan font-size="7.5" dy="-4.2">3</tspan></text>
<line x1="569.9" y1="801.8" x2="569.9" y2="805.4" stroke="#555" stroke-width="1.3"/>
<text class="tk" x="570.7" y="821.2" text-anchor="middle">10<tspan font-size="7.5" dy="-4.2">4</tspan></text>
<line x1="596.9" y1="801.8" x2="596.9" y2="805.4" stroke="#555" stroke-width="1.3"/>
<text class="tk" x="597.7" y="821.2" text-anchor="middle">10<tspan font-size="7.5" dy="-4.2">5</tspan></text>
<line x1="459.6" y1="803.4" x2="607.5" y2="803.4" stroke="#777" stroke-width="1.6" stroke-dasharray="1.2 2.2"/>
<path d="M537.4 713.4 H590.6 M537.4 710.4 V716.4 M590.6 710.4 V716.4" stroke="#4c4c4c" stroke-width="1.6" fill="none"/>
<text class="gl" x="563.9" y="701.1" text-anchor="middle">9.51</text>
</g>
<g filter="url(#b1)">
<text class="lt" transform="translate(405.7,655.1) scale(0.9,1)">J</text>
<text class="ct" transform="translate(419.5,770.8) rotate(-90)" text-anchor="middle" textLength="54.6" lengthAdjust="spacingAndGlyphs">Count</text>
<path d="M415 818 V850.7 H446.3" fill="none" stroke="#000" stroke-width="6.6" stroke-linejoin="miter"/><path d="M415 809 L423 823.5 L415 820 L407 823.5 Z" fill="#000"/><path d="M455.3 850.7 L441.3 843.3 L444.3 850.7 L441.3 858.1 Z" fill="#000"/>
<text class="tn" x="465.3" y="857" textLength="79" lengthAdjust="spacingAndGlyphs">TUNNEL</text>
</g>
<g filter="url(#b2)">
<line x1="723.3" y1="656.5" x2="869.2" y2="656.5" stroke="#aaa" stroke-width="1.8"/>
<line x1="869.2" y1="656.5" x2="869.2" y2="808.9" stroke="#aaa" stroke-width="1.8"/>
<line x1="723.3" y1="656.5" x2="723.3" y2="808.9" stroke="#aaa" stroke-width="1.4"/>
<line x1="722.1" y1="662.5" x2="722.1" y2="808.9" stroke="#999" stroke-width="1.6" stroke-dasharray="1 10.33"/>
<line x1="718.3" y1="668.8" x2="723.3" y2="668.8" stroke="#777" stroke-width="1.3"/>
<text class="tk" x="716" y="672.3" text-anchor="end">600</text>
<line x1="718.3" y1="714.2" x2="723.3" y2="714.2" stroke="#777" stroke-width="1.3"/>
<text class="tk" x="716" y="717.7" text-anchor="end">400</text>
<line x1="718.3" y1="760.8" x2="723.3" y2="760.8" stroke="#777" stroke-width="1.3"/>
<text class="tk" x="716" y="764.3" text-anchor="end">200</text>
<line x1="718.3" y1="804.7" x2="723.3" y2="804.7" stroke="#777" stroke-width="1.3"/>
<text class="tk" x="712.5" y="808.2" text-anchor="end">0</text>
<path d="M723.31 808.74 L775.02 808.16 L781.76 806.15 L785.5 799.55 L787.51 783.75 L788.95 757.89 L790.1 726.29 L791.24 694.69 L792.11 686.65 L793.26 684.64 L793.4 671.13 L795.56 670.56 L796.43 694.69 L797.58 726.29 L799.01 755.02 L800.74 780.87 L803.32 796.67 L807.06 804.43 L813.8 807.88 L841.09 808.74 Z" fill="#969696" stroke="#222" stroke-width="1.8" stroke-linejoin="round"/>
<line x1="719.3" y1="808.9" x2="869.2" y2="808.9" stroke="#444" stroke-width="1.9"/>
<line x1="731.4" y1="808.9" x2="731.4" y2="812.5" stroke="#555" stroke-width="1.3"/>
<text class="tk" x="732.2" y="828.1" text-anchor="middle">10<tspan font-size="7.5" dy="-4.2">0</tspan></text>
<line x1="754.3" y1="808.9" x2="754.3" y2="812.5" stroke="#555" stroke-width="1.3"/>
<text class="tk" x="755.1" y="828.1" text-anchor="middle">10<tspan font-size="7.5" dy="-4.2">1</tspan></text>
<line x1="781.1" y1="808.9" x2="781.1" y2="812.5" stroke="#555" stroke-width="1.3"/>
<text class="tk" x="781.9" y="828.1" text-anchor="middle">10<tspan font-size="7.5" dy="-4.2">2</tspan></text>
<line x1="807.5" y1="808.9" x2="807.5" y2="812.5" stroke="#555" stroke-width="1.3"/>
<text class="tk" x="808.3" y="828.1" text-anchor="middle">10<tspan font-size="7.5" dy="-4.2">3</tspan></text>
<line x1="834.8" y1="808.9" x2="834.8" y2="812.5" stroke="#555" stroke-width="1.3"/>
<text class="tk" x="835.6" y="828.1" text-anchor="middle">10<tspan font-size="7.5" dy="-4.2">4</tspan></text>
<line x1="863.5" y1="808.9" x2="863.5" y2="812.5" stroke="#555" stroke-width="1.3"/>
<text class="tk" x="864.3" y="828.1" text-anchor="middle">10<tspan font-size="7.5" dy="-4.2">5</tspan></text>
<line x1="723.3" y1="810.5" x2="869.2" y2="810.5" stroke="#777" stroke-width="1.6" stroke-dasharray="1.2 2.2"/>
<path d="M800.3 721.1 H854 M800.3 718.1 V724.1 M854 718.1 V724.1" stroke="#4c4c4c" stroke-width="1.6" fill="none"/>
<text class="gl" x="826.7" y="709.1" text-anchor="middle">7.73</text>
</g>
<g filter="url(#b1)">
<text class="lt" transform="translate(657.9,659.9) scale(0.9,1)">K</text>
<text class="ct" transform="translate(678,778) rotate(-90)" text-anchor="middle" textLength="54.6" lengthAdjust="spacingAndGlyphs">Count</text>
<path d="M673 825.8 V857.9 H704.8" fill="none" stroke="#000" stroke-width="6.6" stroke-linejoin="miter"/><path d="M673 816.8 L681 831.3 L673 827.8 L665 831.3 Z" fill="#000"/><path d="M713.8 857.9 L699.8 850.5 L702.8 857.9 L699.8 865.3 Z" fill="#000"/>
<text class="tn" x="723.3" y="863.6" textLength="79" lengthAdjust="spacingAndGlyphs">TUNNEL</text>
</g>
<g filter="url(#b2)">
<line x1="974.1" y1="658.8" x2="1130.7" y2="658.8" stroke="#ccc" stroke-width="3.2"/>
<line x1="1130.7" y1="658.8" x2="1130.7" y2="809.9" stroke="#ddd" stroke-width="1.8"/>
<line x1="974.1" y1="658.8" x2="974.1" y2="809.9" stroke="#e4e4e4" stroke-width="1.4"/>
<line x1="972.9" y1="664.8" x2="972.9" y2="809.9" stroke="#999" stroke-width="1.6" stroke-dasharray="1 6.63"/>
<line x1="969.1" y1="686.1" x2="974.1" y2="686.1" stroke="#777" stroke-width="1.3"/>
<text class="tk" x="966.6" y="689.6" text-anchor="end">400</text>
<line x1="969.1" y1="717.7" x2="974.1" y2="717.7" stroke="#777" stroke-width="1.3"/>
<text class="tk" x="966.6" y="721.2" text-anchor="end">300</text>
<line x1="969.1" y1="747.8" x2="974.1" y2="747.8" stroke="#777" stroke-width="1.3"/>
<text class="tk" x="966.6" y="751.3" text-anchor="end">200</text>
<line x1="969.1" y1="778" x2="974.1" y2="778" stroke="#777" stroke-width="1.3"/>
<text class="tk" x="966.6" y="781.5" text-anchor="end">100</text>
<line x1="969.1" y1="808.2" x2="974.1" y2="808.2" stroke="#777" stroke-width="1.3"/>
<text class="tk" x="963.1" y="811.7" text-anchor="end">0</text>
<path d="M971.82 809.6 L1018.36 809.31 L1026.25 807.02 L1036.02 806.15 L1041.76 804.43 L1045.5 799.55 L1048.95 786.62 L1051.53 769.38 L1053.54 749.27 L1055.27 723.42 L1056.7 697.56 L1057.43 671.13 L1058.86 681.76 L1059.87 700.44 L1062.17 719.11 L1064.18 737.78 L1065.91 757.89 L1067.63 778 L1069.35 795.24 L1071.36 803.86 L1076.67 808.16 L1095.35 809.6 Z" fill="#969696" stroke="#222" stroke-width="1.8" stroke-linejoin="round"/>
<line x1="970.1" y1="809.9" x2="1130.7" y2="809.9" stroke="#444" stroke-width="1.9"/>
<line x1="979" y1="809.9" x2="979" y2="813.5" stroke="#555" stroke-width="1.3"/>
<text class="tk" x="979.8" y="828.1" text-anchor="middle">10<tspan font-size="7.5" dy="-4.2">0</tspan></text>
<line x1="1003.7" y1="809.9" x2="1003.7" y2="813.5" stroke="#555" stroke-width="1.3"/>
<text class="tk" x="1004.5" y="828.1" text-anchor="middle">10<tspan font-size="7.5" dy="-4.2">1</tspan></text>
<line x1="1032.4" y1="809.9" x2="1032.4" y2="813.5" stroke="#555" stroke-width="1.3"/>
<text class="tk" x="1033.2" y="828.1" text-anchor="middle">10<tspan font-size="7.5" dy="-4.2">2</tspan></text>
<line x1="1060.9" y1="809.9" x2="1060.9" y2="813.5" stroke="#555" stroke-width="1.3"/>
<text class="tk" x="1061.7" y="828.1" text-anchor="middle">10<tspan font-size="7.5" dy="-4.2">3</tspan></text>
<line x1="1091" y1="809.9" x2="1091" y2="813.5" stroke="#555" stroke-width="1.3"/>
<text class="tk" x="1091.8" y="828.1" text-anchor="middle">10<tspan font-size="7.5" dy="-4.2">4</tspan></text>
<line x1="1122.1" y1="809.9" x2="1122.1" y2="813.5" stroke="#555" stroke-width="1.3"/>
<text class="tk" x="1122.9" y="828.1" text-anchor="middle">10<tspan font-size="7.5" dy="-4.2">5</tspan></text>
<line x1="974.1" y1="811.5" x2="1130.7" y2="811.5" stroke="#777" stroke-width="1.6" stroke-dasharray="1.2 2.2"/>
<path d="M1056.6 722.8 H1112.6 M1056.6 719.8 V725.8 M1112.6 719.8 V725.8" stroke="#4c4c4c" stroke-width="1.6" fill="none"/>
<text class="gl" x="1084.7" y="711.1" text-anchor="middle">63.8</text>
</g>
<g filter="url(#b1)">
<text class="lt" transform="translate(924.3,662.9) scale(0.9,1)">L</text>
<text class="ct" transform="translate(937.2,774) rotate(-90)" text-anchor="middle" textLength="55.2" lengthAdjust="spacingAndGlyphs">Count</text>
<path d="M929.6 822 V853.6 H961.4" fill="none" stroke="#000" stroke-width="6.6" stroke-linejoin="miter"/><path d="M929.6 813 L937.6 827.5 L929.6 824 L921.6 827.5 Z" fill="#000"/><path d="M970.4 853.6 L956.4 846.2 L959.4 853.6 L956.4 861 Z" fill="#000"/>
<text class="tn" x="982.7" y="859.9" textLength="76.7" lengthAdjust="spacingAndGlyphs">TUNNEL</text>
</g>
<g>
<text class="s" x="1222" y="98.6" font-size="34.5" textLength="28.5" lengthAdjust="spacingAndGlyphs" stroke="#000" stroke-width="0.9">M</text>
<rect x="1460.3" y="63.7" width="37.2" height="40.5" rx="2" fill="#f00"/>
<rect x="1465.8" y="69.2" width="26.2" height="29.5" fill="url(#pr)"/>
<rect x="1463.4" y="121.1" width="37.2" height="38.4" rx="2" fill="#0000c0"/>
<rect x="1468.9" y="126.6" width="26.2" height="27.4" fill="url(#pb)"/>
<rect x="1462.4" y="185.6" width="38.2" height="39.9" rx="2" fill="#7a0fa0"/>
<rect x="1467" y="190.2" width="29" height="30.7" fill="url(#pp)"/>
<text class="s" x="1521.9" y="90.2" font-size="28.5" font-weight="700" stroke="#fff" stroke-width="0.3" textLength="162.5" lengthAdjust="spacingAndGlyphs">No Inhibitor</text>
<text class="s" x="1521.9" y="152" font-size="28.5" font-weight="700" stroke="#fff" stroke-width="0.3" textLength="268.8" lengthAdjust="spacingAndGlyphs">Caspase 8 inhibitor</text>
<text class="s" x="1518.2" y="213.7" font-size="28.5" font-weight="700" stroke="#fff" stroke-width="0.3" textLength="268.8" lengthAdjust="spacingAndGlyphs">Caspase 9 inhibitor</text>
<path d="M1415.8 340.84 H1425.9 V659.54 H1415.8" fill="none" stroke="#000" stroke-width="2.4"/>
<line x1="1415.8" y1="404.58" x2="1425.9" y2="404.58" stroke="#000" stroke-width="2.4"/>
<line x1="1415.8" y1="468.32" x2="1425.9" y2="468.32" stroke="#000" stroke-width="2.4"/>
<line x1="1415.8" y1="532.06" x2="1425.9" y2="532.06" stroke="#000" stroke-width="2.4"/>
<line x1="1415.8" y1="595.8" x2="1425.9" y2="595.8" stroke="#000" stroke-width="2.4"/>
<text class="s" x="1411" y="353.24" font-size="36" font-weight="700" text-anchor="end" textLength="47.3" lengthAdjust="spacingAndGlyphs" stroke="#000" stroke-width="0.7">80</text>
<text class="s" x="1411" y="416.98" font-size="36" font-weight="700" text-anchor="end" textLength="47.3" lengthAdjust="spacingAndGlyphs" stroke="#000" stroke-width="0.7">60</text>
<text class="s" x="1411" y="480.72" font-size="36" font-weight="700" text-anchor="end" textLength="47.3" lengthAdjust="spacingAndGlyphs" stroke="#000" stroke-width="0.7">40</text>
<text class="s" x="1411" y="544.46" font-size="36" font-weight="700" text-anchor="end" textLength="47.3" lengthAdjust="spacingAndGlyphs" stroke="#000" stroke-width="0.7">20</text>
<text class="s" x="1411" y="608.2" font-size="36" font-weight="700" text-anchor="end" textLength="23.5" lengthAdjust="spacingAndGlyphs" stroke="#000" stroke-width="0.7">0</text>
<text class="s" x="1411" y="671.94" font-size="36" font-weight="700" text-anchor="end" textLength="62.5" lengthAdjust="spacingAndGlyphs" stroke="#000" stroke-width="0.7">-20</text>
<text class="s" transform="translate(1307.3,513.5) rotate(-90)" text-anchor="middle" font-size="37" font-weight="700" textLength="250" lengthAdjust="spacingAndGlyphs">Apoptosis (%)</text>
<rect x="1442.4" y="584.36" width="43.2" height="11.44" rx="2" fill="#f00"/>
<rect x="1447.4" y="588.86" width="33.2" height="6.94" fill="url(#pr)"/>
<rect x="1499.4" y="593.2" width="43.4" height="10.96" rx="2" fill="#0000c0"/>
<rect x="1504.4" y="591.8" width="33.4" height="4.5" fill="#fff"/>
<rect x="1504.4" y="595.8" width="33.4" height="3.86" fill="url(#pb)"/>
<rect x="1557" y="593.2" width="43.1" height="15.73" rx="2" fill="#7a0fa0"/>
<rect x="1561.4" y="591.8" width="34.3" height="4.5" fill="#fff"/>
<rect x="1561.4" y="595.8" width="34.3" height="9.17" fill="url(#pp)"/>
<rect x="1634.3" y="575.43" width="43.2" height="20.37" rx="2" fill="#f00"/>
<rect x="1639.3" y="579.93" width="33.2" height="15.87" fill="url(#pr)"/>
<rect x="1690.3" y="585.7" width="44.3" height="10.1" rx="2" fill="#0000c0"/>
<rect x="1695.3" y="590.2" width="34.3" height="5.6" fill="url(#pb)"/>
<rect x="1747.9" y="593.2" width="44.1" height="21.4" rx="2" fill="#7a0fa0"/>
<rect x="1752.3" y="591.8" width="35.3" height="4.5" fill="#fff"/>
<rect x="1752.3" y="595.8" width="35.3" height="14.84" fill="url(#pp)"/>
<rect x="1825.1" y="385.81" width="43" height="209.99" rx="2" fill="#f00"/>
<rect x="1830.3" y="390.51" width="32.6" height="205.29" fill="url(#pr)"/>
<rect x="1882.2" y="523.55" width="43.1" height="72.25" rx="2" fill="#0000c0"/>
<rect x="1887.6" y="528.45" width="32.3" height="67.35" fill="url(#pb)"/>
<rect x="1940" y="430.17" width="42.6" height="165.63" rx="2" fill="#7a0fa0"/>
<rect x="1944.6" y="434.27" width="33.4" height="161.53" fill="url(#pp)"/>
<line x1="1424.7" y1="595.8" x2="2002.4" y2="595.8" stroke="#000" stroke-width="2.4"/>
<line x1="1521.4" y1="595.8" x2="1521.4" y2="604.8" stroke="#000" stroke-width="2.2"/>
<line x1="1712.4" y1="595.8" x2="1712.4" y2="604.8" stroke="#000" stroke-width="2.2"/>
<line x1="1904.1" y1="595.8" x2="1904.1" y2="604.8" stroke="#000" stroke-width="2.2"/>
<text class="s" x="1510.1" y="665" font-size="36" font-weight="700" textLength="17" lengthAdjust="spacingAndGlyphs" stroke="#000" stroke-width="0.7">1</text>
<text class="s" x="1688.9" y="665" font-size="36" font-weight="700" textLength="48.9" lengthAdjust="spacingAndGlyphs" stroke="#000" stroke-width="0.7">10</text>
<text class="s" x="1880.1" y="665" font-size="36" font-weight="700" textLength="48.5" lengthAdjust="spacingAndGlyphs" stroke="#000" stroke-width="0.7">25</text>
<text class="vl" x="1441.1" y="552.2" textLength="39.2" lengthAdjust="spacingAndGlyphs">3.12</text>
<text class="vl" x="1440.6" y="577" textLength="28.1" lengthAdjust="spacingAndGlyphs">NS</text>
<text class="vl" x="1502.2" y="560.8" textLength="34.5" lengthAdjust="spacingAndGlyphs">-1.4</text>
<text class="vl" x="1502.2" y="585.6" textLength="27.2" lengthAdjust="spacingAndGlyphs">NS</text>
<text class="vl" x="1550.1" y="553.1" textLength="46.4" lengthAdjust="spacingAndGlyphs">-2.99</text>
<text class="vl" x="1561.5" y="577.4" textLength="27.3" lengthAdjust="spacingAndGlyphs">NS</text>
<text class="vl" x="1640.3" y="549" textLength="39.6" lengthAdjust="spacingAndGlyphs">5.92</text>
<text class="vl" x="1640.3" y="573.9" textLength="27.6" lengthAdjust="spacingAndGlyphs">NS</text>
<text class="vl" x="1701.9" y="559.5" textLength="25.4" lengthAdjust="spacingAndGlyphs">2.7</text>
<text class="vl" x="1701.9" y="584.3" textLength="25.7" lengthAdjust="spacingAndGlyphs">NS</text>
<text class="vl" x="1743.8" y="551.6" textLength="45.4" lengthAdjust="spacingAndGlyphs">-4.77</text>
<text class="vl" x="1755.2" y="576.1" textLength="26.7" lengthAdjust="spacingAndGlyphs">NS</text>
<text class="vl" x="1826.3" y="363.9" textLength="51.5" lengthAdjust="spacingAndGlyphs">65.42</text>
<text class="vl" x="1943" y="406.5" textLength="39.6" lengthAdjust="spacingAndGlyphs">51.5</text>
<text class="vl" x="1875.9" y="492.2" textLength="39.2" lengthAdjust="spacingAndGlyphs">22.2</text>
<text class="s" x="1838.3" y="389.1" font-size="21" textLength="15.6" lengthAdjust="spacingAndGlyphs">**</text>
<text class="s" x="1960.5" y="432.9" font-size="21" textLength="14.7" lengthAdjust="spacingAndGlyphs">**</text>
<text class="s" x="1891.4" y="517.9" font-size="21" textLength="16.4" lengthAdjust="spacingAndGlyphs">**</text>
<text class="s" x="1608.1" y="741.6" font-size="36.3" font-weight="700" textLength="182" lengthAdjust="spacingAndGlyphs">APL µg/ml</text>
</g>
</svg></body></html>
